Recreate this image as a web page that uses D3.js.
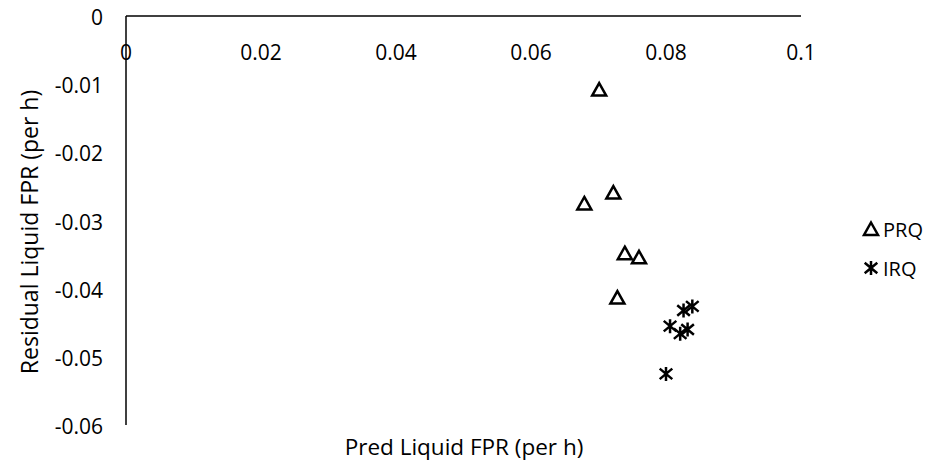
<!DOCTYPE html>
<html><head><meta charset="utf-8">
<script src="https://cdn.jsdelivr.net/npm/d3@7"></script>
<style>body{margin:0;background:#fff}svg{display:block}text{font-family:"Open Sans",sans-serif;fill:#000}</style>
</head><body><svg id="c" width="950" height="463"></svg>
<script>
const xTicks=[0,0.02,0.04,0.06,0.08,0.1];
const xTickLabels=["0","0.02","0.04","0.06","0.08","0.1"];
const yTicks=[0,-0.01,-0.02,-0.03,-0.04,-0.05,-0.06];
const yTickLabels=["0","-0.01","-0.02","-0.03","-0.04","-0.05","-0.06"];
const seriesNames=["PRQ","IRQ"];
const prqX=[0.0701,0.0722,0.0679,0.0739,0.0760,0.0728];
const prqY=[-0.0108,-0.0259,-0.0275,-0.0348,-0.0354,-0.0413];
const irqX=[0.0839,0.0826,0.0806,0.0832,0.0821,0.0800];
const irqY=[-0.0426,-0.0432,-0.0455,-0.0460,-0.0466,-0.0525];

const svg=d3.select("#c");
const x=d3.scaleLinear().domain([0,0.1]).range([126,801]);
const y=d3.scaleLinear().domain([-0.06,0]).range([425,16]);

svg.append("line").attr("x1",x(0)).attr("x2",x(0.1)).attr("y1",y(0)).attr("y2",y(0)).attr("stroke","#000").attr("stroke-width",1.5);
svg.append("line").attr("x1",x(0)).attr("x2",x(0)).attr("y1",y(0)).attr("y2",y(-0.06)).attr("stroke","#000").attr("stroke-width",1.5);

svg.selectAll(".xt").data(xTicks).enter().append("text")
 .attr("x",d=>x(d)).attr("y",y(0)+44).attr("text-anchor","middle").attr("font-size",21).text((d,i)=>xTickLabels[i]);
svg.selectAll(".yt").data(yTicks).enter().append("text")
 .attr("x",103).attr("y",d=>y(d)+9).attr("text-anchor","end").attr("font-size",21).text((d,i)=>yTickLabels[i]);

svg.append("text").attr("x",464).attr("y",455).attr("text-anchor","middle").attr("font-size",22.5).text("Pred Liquid FPR (per h)");
svg.append("text").attr("transform","translate(38,232) rotate(-90)").attr("text-anchor","middle").attr("font-size",23).text("Residual Liquid FPR (per h)");

function tri(g,cx,cy){
  g.append("path").attr("d",`M${cx},${cy-6.5}L${cx+7},${cy+6}L${cx-7},${cy+6}Z`)
   .attr("fill","none").attr("stroke","#000").attr("stroke-width",2.5).attr("stroke-linejoin","miter");
}
function star(g,cx,cy){
  const r=7;
  g.append("path").attr("d",`M${cx},${cy-r}L${cx},${cy+r}M${cx-r*0.9},${cy-r*0.75}L${cx+r*0.9},${cy+r*0.75}M${cx-r*0.9},${cy+r*0.75}L${cx+r*0.9},${cy-r*0.75}`)
   .attr("stroke","#000").attr("stroke-width",2.5);
}
const prq=prqX.map((v,i)=>({x:v,y:prqY[i]}));
const irq=irqX.map((v,i)=>({x:v,y:irqY[i]}));
const gp=svg.append("g");
prq.forEach(d=>tri(gp,x(d.x),y(d.y)));
const gi=svg.append("g");
irq.forEach(d=>star(gi,x(d.x),y(d.y)));

const lg=svg.append("g");
tri(lg,871,229);
lg.append("text").attr("x",883).attr("y",237).attr("font-size",20).text(seriesNames[0]);
star(lg,871,268);
lg.append("text").attr("x",883).attr("y",276).attr("font-size",20).text(seriesNames[1]);
</script></body></html>
